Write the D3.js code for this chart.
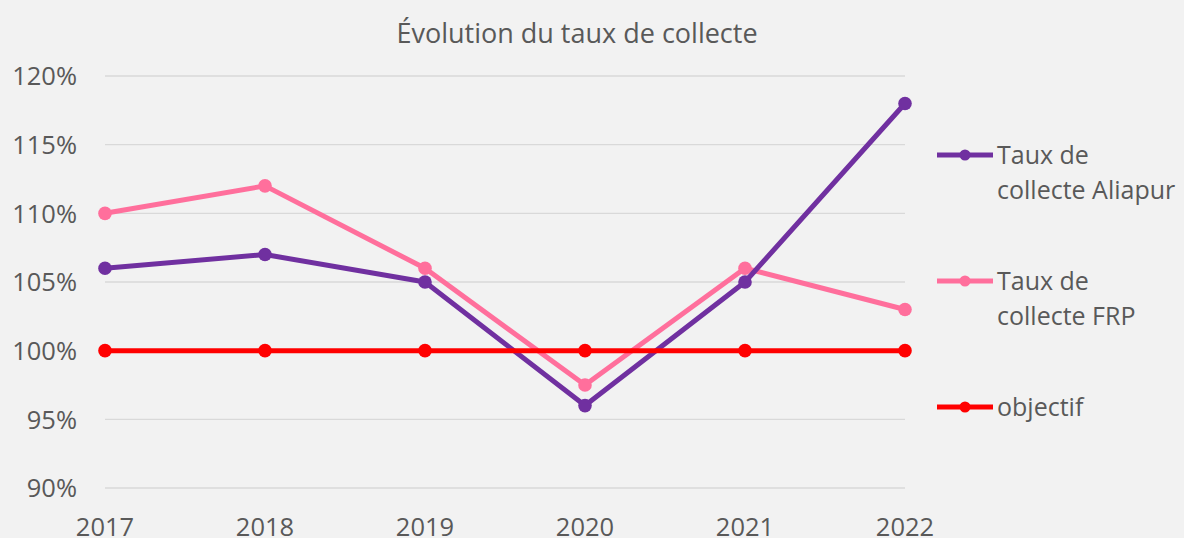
<!DOCTYPE html>
<html>
<head>
<meta charset="utf-8">
<title>Évolution du taux de collecte</title>
<script src="https://cdn.jsdelivr.net/npm/d3@7"></script>
<style>
  body { margin: 0; background: #f2f2f2; }
  svg { display: block; font-family: 'Open Sans', sans-serif; }
  text { fill: #595959; }
</style>
</head>
<body>
<div id="chart"></div>
<script>
// data
const years = ['2017', '2018', '2019', '2020', '2021', '2022'];
const aliapur = [106, 107, 105, 96, 105, 118];
const frp = [110, 112, 106, 97.5, 106, 103];
const objectif = [100, 100, 100, 100, 100, 100];
const yTicks = [90, 95, 100, 105, 110, 115, 120];
const seriesNames = ['Taux de collecte Aliapur', 'Taux de collecte FRP', 'objectif'];

const width = 1184, height = 538;

const svg = d3.select('#chart').append('svg')
  .attr('width', width)
  .attr('height', height);

svg.append('rect')
  .attr('width', width).attr('height', height)
  .attr('fill', '#f2f2f2');

const x = d3.scalePoint().domain(years).range([105, 905]);
const y = d3.scaleLinear().domain([90, 120]).range([488, 76]);

// title
svg.append('text')
  .attr('x', 577).attr('y', 43)
  .attr('text-anchor', 'middle')
  .style('font-size', '27px')
  .text('Évolution du taux de collecte');

// gridlines
svg.append('g').selectAll('line')
  .data(yTicks)
  .join('line')
    .attr('x1', x.range()[0]).attr('x2', x.range()[1])
    .attr('y1', d => y(d)).attr('y2', d => y(d))
    .attr('stroke', '#d9d9d9')
    .attr('stroke-width', 1.3);

// y labels
svg.append('g').selectAll('text')
  .data(yTicks)
  .join('text')
    .attr('x', 77)
    .attr('y', d => y(d))
    .attr('dy', '0.36em')
    .attr('text-anchor', 'end')
    .style('font-size', '25.5px')
    .text(d => d + '%');

// x labels (cut at the bottom edge, as in the reference)
svg.append('g').selectAll('text')
  .data(years)
  .join('text')
    .attr('x', d => x(d))
    .attr('y', 536)
    .attr('text-anchor', 'middle')
    .style('font-size', '25.5px')
    .text(d => d);

const series = [
  { name: seriesNames[0], values: aliapur, color: '#7030a0' },
  { name: seriesNames[1], values: frp, color: '#ff6f9c' },
  { name: seriesNames[2], values: objectif, color: '#ff0000' }
];

const line = d3.line()
  .x((d, i) => x(years[i]))
  .y(d => y(d));

// objectif drawn last so it sits on top
const drawOrder = [series[1], series[0], series[2]];

drawOrder.forEach(s => {
  const g = svg.append('g');
  g.append('path')
    .datum(s.values)
    .attr('fill', 'none')
    .attr('stroke', s.color)
    .attr('stroke-width', 5)
    .attr('stroke-linejoin', 'round')
    .attr('d', line);
  g.selectAll('circle')
    .data(s.values)
    .join('circle')
      .attr('cx', (d, i) => x(years[i]))
      .attr('cy', d => y(d))
      .attr('r', 6.8)
      .attr('fill', s.color);
});

// legend
const legendRows = [
  { s: series[0], y: 155, lines: ['Taux de', 'collecte Aliapur'] },
  { s: series[1], y: 281, lines: ['Taux de', 'collecte FRP'] },
  { s: series[2], y: 407, lines: ['objectif'] }
];

const legend = svg.append('g');
legendRows.forEach(r => {
  const g = legend.append('g');
  g.append('line')
    .attr('x1', 937).attr('x2', 993)
    .attr('y1', r.y).attr('y2', r.y)
    .attr('stroke', r.s.color)
    .attr('stroke-width', 5);
  g.append('circle')
    .attr('cx', 965).attr('cy', r.y)
    .attr('r', 5.5)
    .attr('fill', r.s.color);
  r.lines.forEach((t, i) => {
    g.append('text')
      .attr('x', 997)
      .attr('y', r.y + 9 + i * 35)
      .style('font-size', '25px')
      .text(t);
  });
});
</script>
</body>
</html>
